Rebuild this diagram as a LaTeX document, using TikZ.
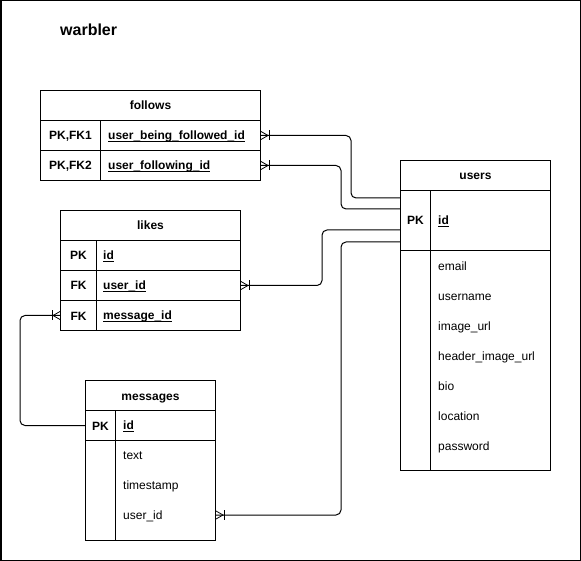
\documentclass[tikz,border=0pt]{standalone}
\usepackage{fontspec}
\setmainfont{Liberation Sans}
\newcommand\fs{\fontsize{12}{14}\selectfont}
\newcommand\keyf[1]{\setbox0\hbox{\bfseries #1}\rlap{\rule[-2.2pt]{\wd0}{0.7pt}}\box0}
\newcommand\crowfoot[2]{%
  \draw[line width=0.8pt] ([yshift=4pt]#1) -- ([xshift=#2*7pt]#1) -- ([yshift=-4pt]#1);
  \draw[line width=0.8pt] ([xshift=#2*8pt, yshift=5pt]#1) -- ([xshift=#2*8pt, yshift=-5pt]#1);}
\begin{document}
\begin{tikzpicture}[x=1pt,y=-1pt,
  every node/.append style={font=\fs},
  tbl/.style={draw, line width=1pt, inner sep=0pt, anchor=north west, minimum height=30pt,
    text height=9pt, text depth=0pt},
  fld/.style={anchor=west, inner sep=0pt, text height=9pt, text depth=0pt},
  rel/.style={line width=1pt, rounded corners=5pt}]
\useasboundingbox (0,0) rectangle (581,561);
\draw[line width=1.5pt] (0.75,0.75) rectangle (580.25,560.25);
\node[font=\fontsize{16}{19}\selectfont\bfseries, anchor=base west, inner sep=0pt] (title) at (60,36) {warbler};

% follows
\node[tbl, minimum width=220pt] (fhead) at (40,90) {\bfseries follows};
\node[tbl, minimum width=220pt] (fbf) at (40,120) {};
\node[tbl, minimum width=220pt] (fuf) at (40,150) {};
\node[tbl, minimum width=60pt] (fbfl) at (40,120) {\bfseries PK,FK1};
\node[tbl, minimum width=60pt] (fufl) at (40,150) {\bfseries PK,FK2};
\node[fld] (fbft) at (108,135) {\keyf{user\_being\_followed\_id}};
\node[fld] (fuft) at (108,165) {\keyf{user\_following\_id}};

% likes
\node[tbl, minimum width=180pt] (lhead) at (60,210) {\bfseries likes};
\node[tbl, minimum width=180pt] (lid) at (60,240) {};
\node[tbl, minimum width=180pt] (luid) at (60,270) {};
\node[tbl, minimum width=180pt] (lmid) at (60,300) {};
\node[tbl, minimum width=36pt] (lidl) at (60,240) {\bfseries PK};
\node[tbl, minimum width=36pt] (luidl) at (60,270) {\bfseries FK};
\node[tbl, minimum width=36pt] (lmidl) at (60,300) {\bfseries FK};
\node[fld] (lidt) at (103,255) {\keyf{id}};
\node[fld] (luidt) at (103,285) {\keyf{user\_id}};
\node[fld] (lmidt) at (103,315) {\keyf{message\_id}};

% messages
\node[tbl, minimum width=130pt] (mhead) at (85,380) {\bfseries messages};
\node[tbl, minimum width=130pt] (mpk) at (85,410) {};
\node[tbl, minimum width=30pt] (mpkl) at (85,410) {\bfseries PK};
\node[fld] (mpkt) at (123,425) {\keyf{id}};
\node[tbl, minimum width=130pt, minimum height=100pt] (mbody) at (85,440) {};
\node[tbl, minimum width=30pt, minimum height=100pt] (mbodyl) at (85,440) {};
\node[fld] (mtext) at (123,455) {text};
\node[fld] (mts) at (123,485) {timestamp};
\node[fld] (muid) at (123,515) {user\_id};

% users
\node[tbl, minimum width=150pt] (uhead) at (400,160) {\bfseries users};
\node[tbl, minimum width=150pt, minimum height=60pt] (uid) at (400,190) {};
\node[tbl, minimum width=30pt, minimum height=60pt] (uidl) at (400,190) {\bfseries PK};
\node[fld] (uidt) at (438,220) {\keyf{id}};
\node[tbl, minimum width=150pt, minimum height=220pt] (ubody) at (400,250) {};
\node[tbl, minimum width=30pt, minimum height=220pt] (ubodyl) at (400,250) {};
\node[fld] (uemail) at (438,266) {email};
\node[fld] (uuser) at (438,296) {username};
\node[fld] (uimg) at (438,326) {image\_url};
\node[fld] (uhimg) at (438,356) {header\_image\_url};
\node[fld] (ubio) at (438,386) {bio};
\node[fld] (uloc) at (438,416) {location};
\node[fld] (upw) at (438,446) {password};

% connectors
\coordinate (muidend) at (mbody.east |- muid);
\draw[rel] (fbf.east) -- ++(90,0) |- ([yshift=-8pt]uid.north west);
\draw[rel] (fuf.east) -- ++(80,0) |- ([yshift=-19pt]uid.north west);
\draw[rel] (luid.east) -- ++(81,0) |- ([yshift=-40pt]uid.north west);
\draw[rel] (muidend) -- ++(125,0) |- ([yshift=-52pt]uid.north west);
\draw[rel] (lmid.west) -- ++(-40,0) |- (mpk.west);
\crowfoot{fbf.east}{1}
\crowfoot{fuf.east}{1}
\crowfoot{luid.east}{1}
\crowfoot{muidend}{1}
\crowfoot{lmid.west}{-1}
\end{tikzpicture}
\end{document}
